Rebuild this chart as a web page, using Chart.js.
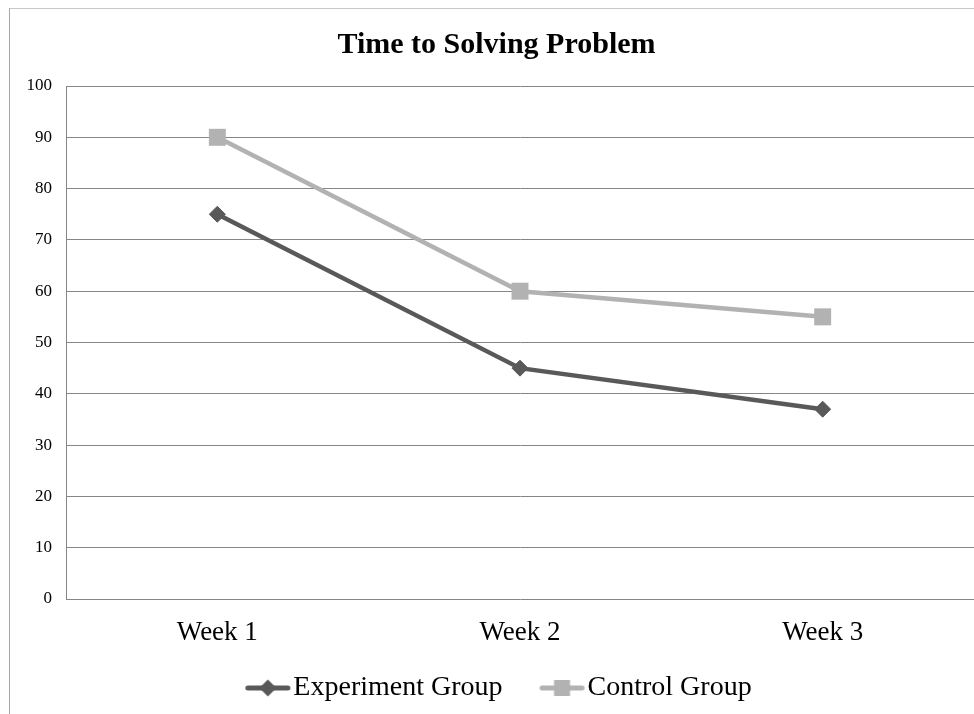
<!DOCTYPE html>
<html>
<head>
<meta charset="utf-8">
<script src="https://cdn.jsdelivr.net/npm/chart.js@4"></script>
<style>
  html, body { margin: 0; padding: 0; background: #fff; overflow: hidden; }
  #wrap { position: relative; width: 974px; height: 714px; overflow: hidden; }
  #frame { position: absolute; left: 9px; top: 8px; width: 1000px; height: 720px;
           border-left: 1px solid #a6a6a6; border-top: 1px solid #c8c8c8; }
  #chart { position: absolute; left: 0; top: 0; }
</style>
</head>
<body>
<div id="wrap">
  <div id="frame"></div>
  <canvas id="chart" width="974" height="714"></canvas>
</div>
<script>
// chart data
const weeks = ['Week 1', 'Week 2', 'Week 3'];
const experimentGroup = [75, 45, 37];
const controlGroup = [90, 60, 55];
const yTicks = [0, 10, 20, 30, 40, 50, 60, 70, 80, 90, 100];

const darkGray = '#595959';
const lightGray = '#b2b2b2';
const serif = "'Liberation Serif', 'Times New Roman', serif";

// legend icon: short line with the marker on it (drawn in the right part of a wider canvas)
function legendIcon(color, shape) {
    const c = document.createElement('canvas');
    c.width = 62;
    c.height = 22;
    const g = c.getContext('2d');
    const x0 = 16, x1 = 61, cx = (x0 + x1) / 2, cy = 11;
    g.strokeStyle = color;
    g.lineWidth = 5;
    g.lineCap = 'round';
    g.beginPath();
    g.moveTo(x0 + 2.5, cy);
    g.lineTo(x1 - 2.5, cy);
    g.stroke();
    g.fillStyle = color;
    if (shape === 'diamond') {
        g.beginPath();
        g.moveTo(cx, cy - 8.5);
        g.lineTo(cx + 8.5, cy);
        g.lineTo(cx, cy + 8.5);
        g.lineTo(cx - 8.5, cy);
        g.closePath();
        g.fill();
    } else {
        g.fillRect(cx - 8, cy - 8, 16, 16);
    }
    return c;
}

const icons = [legendIcon(darkGray, 'diamond'), legendIcon(lightGray, 'square')];

new Chart(document.getElementById('chart'), {
    type: 'line',
    data: {
        labels: weeks,
        datasets: [{
            label: 'Experiment Group',
            data: experimentGroup,
            borderColor: darkGray,
            backgroundColor: darkGray,
            borderWidth: 4.5,
            pointStyle: 'rectRot',
            pointRadius: 8,
            pointBorderWidth: 1,
            tension: 0
        }, {
            label: 'Control Group',
            data: controlGroup,
            borderColor: lightGray,
            backgroundColor: lightGray,
            borderWidth: 4.5,
            pointStyle: 'rect',
            pointRadius: 12,
            pointBorderWidth: 0,
            tension: 0
        }]
    },
    options: {
        responsive: false,
        animation: false,
        layout: { autoPadding: false, padding: { left: 19, right: 0, top: 0, bottom: 2 } },
        scales: {
            x: {
                offset: true,
                afterFit: (axis) => {
                    axis.height = 42;
                    axis.paddingLeft = 0;
                    axis.paddingRight = 0;
                },
                grid: { display: false, drawTicks: false },
                border: { display: false },
                ticks: { color: '#000', font: { family: serif, size: 27 }, padding: 18 }
            },
            y: {
                min: 0,
                max: 100,
                afterBuildTicks: (axis) => { axis.ticks = yTicks.map(v => ({ value: v })); },
                afterFit: (axis) => { axis.width = 47; },
                grid: { color: '#868686', lineWidth: 1, drawTicks: false },
                border: { color: '#868686', width: 1 },
                ticks: { color: '#000', font: { family: serif, size: 17 }, padding: 14 }
            }
        },
        plugins: {
            title: {
                display: true,
                text: 'Time to Solving Problem',
                color: '#000',
                font: { family: serif, size: 30, weight: 'bold' },
                padding: { top: 27, bottom: 23 }
            },
            legend: {
                position: 'bottom',
                labels: {
                    color: '#000',
                    font: { family: serif, size: 28 },
                    usePointStyle: true,
                    pointStyleWidth: 38,
                    padding: 33,
                    generateLabels: (chart) => chart.data.datasets.map((ds, i) => ({
                        text: ds.label,
                        pointStyle: icons[i],
                        fillStyle: ds.borderColor,
                        strokeStyle: ds.borderColor,
                        fontColor: '#000',
                        lineWidth: 0,
                        datasetIndex: i
                    }))
                }
            },
            tooltip: { enabled: false }
        }
    }
});
</script>
</body>
</html>
